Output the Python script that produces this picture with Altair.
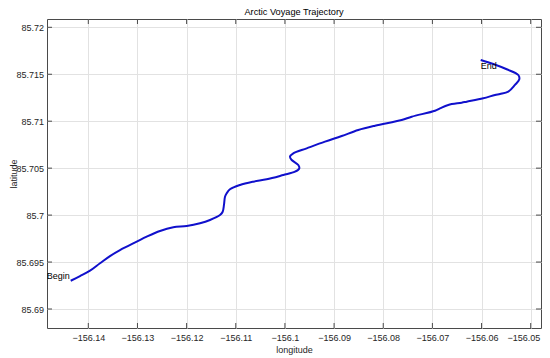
import altair as alt
import pandas as pd

# trajectory (longitude, latitude)
lon = [-156.14358, -156.14169, -156.13965, -156.13762, -156.13559, -156.13355,
       -156.13015, -156.12812, -156.12541, -156.12271, -156.11998, -156.11728,
       -156.11524, -156.11321, -156.11266, -156.11240, -156.11219, -156.11185,
       -156.11118, -156.10914, -156.10644, -156.10371, -156.10033, -156.09795,
       -156.09708, -156.09728, -156.09862, -156.09897, -156.09830, -156.09557,
       -156.09185, -156.08845, -156.08508, -156.08168, -156.07625, -156.07421,
       -156.06947, -156.06846, -156.06677, -156.06404, -156.06302, -156.05965,
       -156.05727, -156.05625, -156.05456, -156.05320, -156.05232, -156.05252,
       -156.05488, -156.05761, -156.06017]
lat = [85.69301, 85.69351, 85.69408, 85.69487, 85.69564, 85.69628,
       85.69717, 85.69770, 85.69831, 85.69870, 85.69884, 85.69913,
       85.69948, 85.70001, 85.70036, 85.70108, 85.70196, 85.70232,
       85.70275, 85.70321, 85.70356, 85.70381, 85.70427, 85.70462,
       85.70498, 85.70534, 85.70587, 85.70622, 85.70658, 85.70711,
       85.70782, 85.70842, 85.70906, 85.70952, 85.71013, 85.71048,
       85.71112, 85.71137, 85.71173, 85.71197, 85.71208, 85.71244,
       85.71279, 85.71290, 85.71314, 85.71386, 85.71446, 85.71492,
       85.71553, 85.71609, 85.71652]

x_ticks = [-156.14, -156.13, -156.12, -156.11, -156.10, -156.09,
           -156.08, -156.07, -156.06, -156.05]
y_ticks = [85.69, 85.695, 85.70, 85.705, 85.71, 85.715, 85.72]

label_text = ["Begin", "End"]
label_lon = [-156.14358, -156.06017]
label_lat = [85.69351, 85.71588]
label_align = ["right", "left"]

W, H = 494, 309
FONT = "Liberation Sans"
AX = "#4a4a4a"

x_left = -156.148402
xs = alt.Scale(domain=[x_left, x_left + W / 4915.6], nice=False, zero=False)
ys = alt.Scale(domain=[85.687977, 85.720884], nice=False, zero=False)

track = pd.DataFrame({"i": list(range(len(lon))), "lon": lon, "lat": lat})

line = alt.Chart(track).mark_line(
    color="#1010cc", strokeWidth=2, interpolate="catmull-rom"
).encode(
    x=alt.X("lon:Q", scale=xs, axis=alt.Axis(
        values=x_ticks, format=".6~g", title="longitude", grid=True,
        ticks=False, domain=False, labelPadding=5, titleY=24.5,
        labelFlush=15, labelFlushOffset=9,
        titleBaseline="alphabetic")),
    y=alt.Y("lat:Q", scale=ys, axis=alt.Axis(
        values=y_ticks, format=".6~g", title="latitude", grid=True,
        ticks=False, domain=False, labelPadding=3.5, titleX=-31,
        labelFlush=False, titleBaseline="alphabetic")),
    order="i:Q",
)

xt = pd.DataFrame({"v": x_ticks})
yt = pd.DataFrame({"v": y_ticks})
bottom_ticks = alt.Chart(xt).mark_rule(color=AX, strokeWidth=1).encode(
    x=alt.X("v:Q", scale=xs, axis=None), y=alt.value(H), y2=alt.value(H - 5))
top_ticks = alt.Chart(xt).mark_rule(color=AX, strokeWidth=1).encode(
    x=alt.X("v:Q", scale=xs, axis=None), y=alt.value(0), y2=alt.value(5))
left_ticks = alt.Chart(yt).mark_rule(color=AX, strokeWidth=1).encode(
    y=alt.Y("v:Q", scale=ys, axis=None), x=alt.value(0), x2=alt.value(5))
right_ticks = alt.Chart(yt).mark_rule(color=AX, strokeWidth=1).encode(
    y=alt.Y("v:Q", scale=ys, axis=None), x=alt.value(W), x2=alt.value(W - 5))

labels_df = pd.DataFrame({"t": label_text, "lon": label_lon, "lat": label_lat,
                          "a": label_align})
begin_lbl = alt.Chart(labels_df[labels_df.a == "right"]).mark_text(
    align="right", baseline="middle", dx=-1, fontSize=9, font=FONT, color="black"
).encode(x=alt.X("lon:Q", scale=xs, axis=None),
         y=alt.Y("lat:Q", scale=ys, axis=None), text="t:N")
end_lbl = alt.Chart(labels_df[labels_df.a == "left"]).mark_text(
    align="left", baseline="middle", fontSize=9, font=FONT, color="black"
).encode(x=alt.X("lon:Q", scale=xs, axis=None),
         y=alt.Y("lat:Q", scale=ys, axis=None), text="t:N")

chart = alt.layer(
    line, bottom_ticks, top_ticks, left_ticks, right_ticks, begin_lbl, end_lbl
).resolve_axis(
    x="independent", y="independent"
).properties(
    width=W, height=H,
    autosize=alt.AutoSizeParams(type="none"),
    padding={"left": 39, "top": 11, "right": 1, "bottom": 30},
    title=alt.TitleParams("Arctic Voyage Trajectory", fontSize=9.2,
                          fontWeight="normal", color="black", font=FONT,
                          offset=1, anchor="middle", frame="group"),
).configure_view(
    stroke=AX, strokeWidth=1
).configure_axis(
    gridColor="#e2e2e2", gridWidth=1, labelFont=FONT, titleFont=FONT,
    labelFontSize=9, titleFontSize=9, labelColor="#262626",
    titleColor="#262626", titleFontWeight="normal",
)

chart.save("out.html", embed_options={"renderer": "svg", "actions": False})
